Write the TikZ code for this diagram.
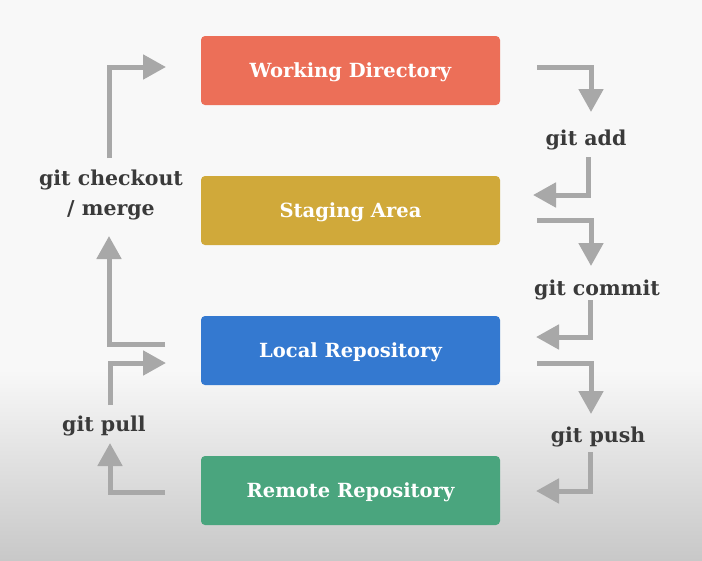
\documentclass[tikz,border=0pt]{standalone}
\usepackage{fontspec}
\setmainfont{DejaVu Serif}
\usetikzlibrary{arrows.meta,calc}
\definecolor{bgtop}{HTML}{F8F8F8}
\definecolor{bgbot}{HTML}{C8C8C8}
\definecolor{cwd}{HTML}{EC6F58}
\definecolor{cst}{HTML}{D0A93A}
\definecolor{clr}{HTML}{3479D0}
\definecolor{crr}{HTML}{4AA57E}
\definecolor{arr}{HTML}{A8A8A8}
\definecolor{txt}{HTML}{3A3A3A}
\tikzset{
  box/.style={rounded corners=4pt, minimum width=299pt, minimum height=69pt,
    text=white, font=\bfseries\fontsize{19.5}{22}\selectfont, inner sep=0pt,
    text height=14pt, text depth=0pt},
  cmd/.style={text=txt, font=\bfseries\fontsize{20.5}{30}\selectfont, align=center, inner sep=0pt},
  flow/.style={draw=arr, line width=5pt, line join=miter,
    -{Triangle[width=24pt,length=23pt]}},
}
\begin{document}
\begin{tikzpicture}[x=1pt,y=-1pt]
\useasboundingbox (0,0) rectangle (702,560);
\fill[bgtop] (0,0) rectangle (702,370);
\shade[top color=bgtop, bottom color=bgbot] (0,369.5) rectangle (702,560);
\node[box, fill=cwd] (wd) at (350.5,70.5) {Working Directory};
\node[box, fill=cst] (sa) at (350.5,210.5) {Staging Area};
\node[box, fill=clr] (lr) at (350.5,350.5) {Local Repository};
\node[box, fill=crr] (rr) at (350.5,490.5) {Remote Repository};
\node[cmd] (add) at (586,140) {git add};
\node[cmd] (commit) at (597,290) {git commit};
\node[cmd] (push) at (598,437) {git push};
\node[cmd] (checkout) at (111,195) {git checkout\\/ merge};
\node[cmd] (pull) at (104,426) {git pull};
% right side
\coordinate (a1s) at (537,67);   \coordinate (a1e) at (591,112);
\coordinate (a2s) at (588,157);  \coordinate (a2e) at (533,195);
\coordinate (a3s) at (537,220);  \coordinate (a3e) at (591,266);
\coordinate (a4s) at (590,300);  \coordinate (a4e) at (536,337);
\coordinate (a5s) at (537,363);  \coordinate (a5e) at (591,414);
\coordinate (a6s) at (590,452);  \coordinate (a6e) at (536,491);
\draw[flow] (a1s) -| (a1e);
\draw[flow] (a2s) |- (a2e);
\draw[flow] (a3s) -| (a3e);
\draw[flow] (a4s) |- (a4e);
\draw[flow] (a5s) -| (a5e);
\draw[flow] (a6s) |- (a6e);
% left side
\coordinate (b1s) at (109,158);  \coordinate (b1e) at (166,67);
\coordinate (b2s) at (165,344);  \coordinate (b2e) at (109,236);
\coordinate (b3s) at (110,405);  \coordinate (b3e) at (166,363);
\coordinate (b4s) at (165,492);  \coordinate (b4e) at (110,443);
\draw[flow] (b1s) |- (b1e);
\draw[flow] (b2s) -| (b2e);
\draw[flow] (b3s) |- (b3e);
\draw[flow] (b4s) -| (b4e);
\end{tikzpicture}
\end{document}
